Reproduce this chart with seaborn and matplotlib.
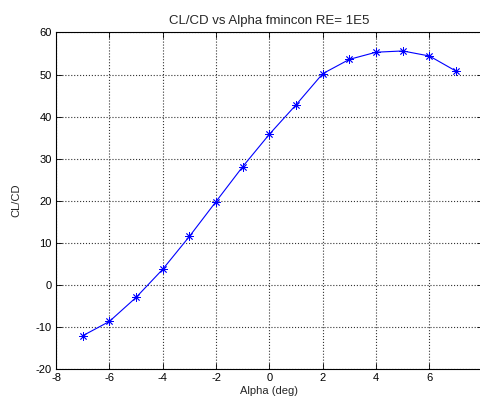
import matplotlib
matplotlib.use("Agg")
import matplotlib.pyplot as plt
import seaborn as sns
import pandas as pd

alpha = [-7, -6, -5, -4, -3, -2, -1, 0, 1, 2, 3, 4, 5, 6, 7]
cl_cd = [-12.1, -8.7, -3.0, 3.7, 11.5, 19.8, 28.1, 35.8, 42.8, 50.2, 53.6, 55.3, 55.6, 54.4, 50.8]
x_ticks = [-8, -6, -4, -2, 0, 2, 4, 6, 8]
x_tick_labels = ["-8", "-6", "-4", "-2", "0", "2", "4", "6", ""]
y_ticks = [-20, -10, 0, 10, 20, 30, 40, 50, 60]

sns.set_theme(style="white")
plt.rcParams['font.family'] = ['Liberation Sans', 'DejaVu Sans']

df = pd.DataFrame({"Alpha": alpha, "CLCD": cl_cd})

fig = plt.figure(figsize=(4.8, 4.05), dpi=100)
ax = fig.add_axes([0.1167, 0.0889, 0.889, 0.831])
sns.lineplot(data=df, x="Alpha", y="CLCD", ax=ax, color="#0000ff", linewidth=0.8,
             marker=(8, 2, 0), markersize=6, markeredgecolor="#0000ff",
             markeredgewidth=0.6)

ax.set_xlim(-8, 8)
ax.set_ylim(-20, 60)
ax.set_xticks(x_ticks)
ax.set_yticks(y_ticks)
ax.set_xticklabels(x_tick_labels)
ax.set_yticklabels([str(v) for v in y_ticks])
ax.grid(True, color="#333333", linestyle=":", linewidth=0.8)
ax.tick_params(direction="in", length=4, width=0.6, labelsize=8, colors="black",
               top=True, right=True, bottom=True, left=True, pad=3)
for s in ax.spines.values():
    s.set_visible(True)
    s.set_color("black")
    s.set_linewidth(0.8)
ax.set_xlabel("Alpha (deg)", fontsize=8, labelpad=2)
ax.set_ylabel("CL/CD", fontsize=8, labelpad=10)
ax.set_title("CL/CD vs Alpha fmincon RE= 1E5", fontsize=9.5, pad=6)
ax.set_facecolor("white")
fig.patch.set_facecolor("white")
fig.savefig("out.png", dpi=100)
